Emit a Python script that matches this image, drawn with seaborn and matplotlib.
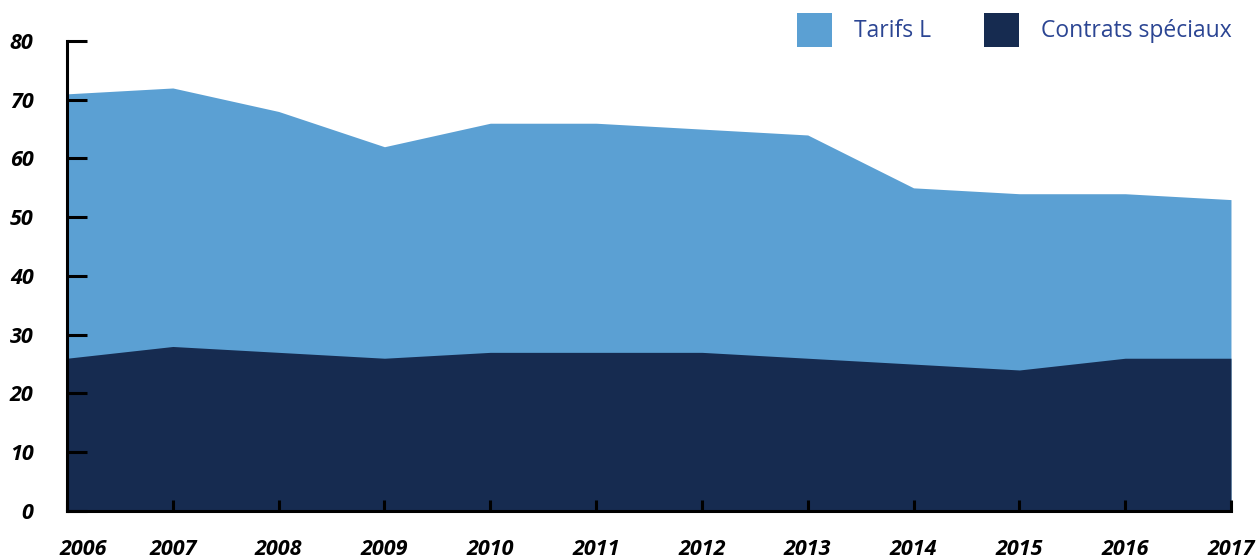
import numpy as np
import pandas as pd
import matplotlib.pyplot as plt
import matplotlib.transforms as mtransforms
import seaborn as sns
from matplotlib.patches import Patch

years = [2006, 2007, 2008, 2009, 2010, 2011, 2012, 2013, 2014, 2015, 2016, 2017]
contrats_speciaux = [26, 28, 27, 26, 27, 27, 27, 26, 25, 24, 26, 26]
tarifs_l = [45, 44, 41, 36, 39, 39, 38, 38, 30, 30, 28, 27]
y_ticks = [0, 10, 20, 30, 40, 50, 60, 70, 80]

df = pd.DataFrame({"annee": years, "Contrats spéciaux": contrats_speciaux, "Tarifs L": tarifs_l})
df["total"] = df["Contrats spéciaux"] + df["Tarifs L"]

light = "#5ba0d3"
navy = "#162b50"
text_blue = "#2b4593"

sns.set_style("ticks")
plt.rcParams['font.family'] = ['Open Sans', 'DejaVu Sans']

fig = plt.figure(figsize=(12.57, 5.59), dpi=100)
ax = fig.add_axes([0.0533, 0.0859, 0.9260, 0.8408])

ax.fill_between(df["annee"], 0, df["total"], color=light, linewidth=0, zorder=0)
ax.fill_between(df["annee"], 0, df["Contrats spéciaux"], color=navy, linewidth=0, zorder=0)
ax.set_axisbelow(False)

ax.set_xlim(2006, 2017)
ax.set_ylim(0, 80)
ax.set_xticks(years)
ax.set_yticks(y_ticks)
ax.set_xticklabels([str(y) for y in years], fontsize=15.5, fontweight="bold", style="italic")
ax.set_yticklabels([str(v) for v in y_ticks], fontsize=15.5, fontweight="bold", style="italic")
ax.tick_params(axis="y", direction="in", length=14.5, width=2.2, pad=24, colors="black")
ax.tick_params(axis="x", direction="in", length=8, width=2.2, pad=20, colors="black")

# first year label sits a bit to the right in the original
first = ax.get_xticklabels()[0]
first.set_horizontalalignment("left")
first.set_transform(first.get_transform() + mtransforms.ScaledTranslation(-0.07, 0, fig.dpi_scale_trans))

sns.despine(ax=ax)
for s in ["left", "bottom"]:
    ax.spines[s].set_linewidth(2.2)
    ax.spines[s].set_color("black")

handles = [Patch(facecolor=light, edgecolor="none", label="Tarifs L"),
           Patch(facecolor=navy, edgecolor="none", label="Contrats spéciaux")]
leg = fig.legend(handles=handles, loc="upper right", bbox_to_anchor=(0.996, 1.014), ncol=2,
                 frameon=False, fontsize=16.5, handlelength=1.53, handleheight=1.9,
                 handletextpad=0.95, columnspacing=2.3)
for t in leg.get_texts():
    t.set_color(text_blue)

fig.savefig("out.png", dpi=100)
